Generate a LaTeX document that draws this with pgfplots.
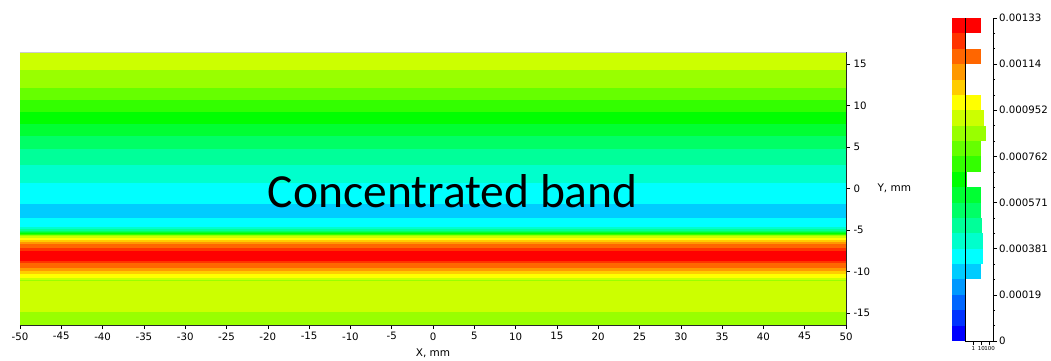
\documentclass[border=0pt]{standalone}
\usepackage{fontspec}
\setmainfont{DejaVu Sans}
\newfontfamily\carlito{Carlito}
\usepackage{pgfplots}
\pgfplotsset{compat=1.18}
\definecolor{L0}{HTML}{0000FF}
\definecolor{L1}{HTML}{0033FF}
\definecolor{L2}{HTML}{0066FF}
\definecolor{L3}{HTML}{0099FF}
\definecolor{L4}{HTML}{00CCFF}
\definecolor{L5}{HTML}{00FFFF}
\definecolor{L6}{HTML}{00FFCC}
\definecolor{L7}{HTML}{00FF99}
\definecolor{L8}{HTML}{00FF66}
\definecolor{L9}{HTML}{00FF33}
\definecolor{L10}{HTML}{00FF00}
\definecolor{L11}{HTML}{33FF00}
\definecolor{L12}{HTML}{66FF00}
\definecolor{L13}{HTML}{99FF00}
\definecolor{L14}{HTML}{CCFF00}
\definecolor{L15}{HTML}{FFFF00}
\definecolor{L16}{HTML}{FFCC00}
\definecolor{L17}{HTML}{FF9900}
\definecolor{L18}{HTML}{FF6600}
\definecolor{L19}{HTML}{FF3300}
\definecolor{L20}{HTML}{FF0000}
% band: top boundary (mm), colour level; filled down to ymin, drawn top to bottom
\newcommand\band[2]{\addplot[draw=none,fill=L#2] coordinates {(-50,#1) (50,#1) (50,-16.45) (-50,-16.45)};}
% colour strip: top of level, level
\newcommand\cstrip[2]{\addplot[draw=none,fill=L#2] coordinates {(0,#1) (1,#1) (1,0) (0,0)};}
% histogram bar: level, lower, upper, count
\newcommand\histbar[4]{\addplot[draw=none,fill=L#1] coordinates {(0.1,#2) (#4,#2) (#4,#3) (0.1,#3)};}
\begin{document}
\begin{tikzpicture}
\useasboundingbox (0pt,0pt) rectangle (1051pt,361pt);
\begin{axis}[at={(20pt,36pt)}, anchor=south west, scale only axis,
  width=826pt, height=273pt,
  xmin=-50, xmax=50, ymin=-16.45, ymax=16.48,
  axis x line=bottom, axis y line=right,
  axis line style={-, black!85, line width=0.8pt},
  xtick={-50,-45,...,50}, ytick={-15,-10,...,15},
  tick align=outside, major tick length=4pt,
  tick style={black, line width=0.6pt},
  /pgf/number format/assume math mode=true,
  tick label style={font=\fontsize{10.2}{12}\selectfont},
  xlabel={X, mm}, ylabel={Y, mm},
  every axis y label/.style={at={(rel axis cs:1,0.5)}, anchor=west, xshift=28pt, font=\fontsize{10.5}{12}\selectfont},
  xlabel style={yshift=-2pt, font=\fontsize{10.5}{12}\selectfont},
  axis on top]
\band{16.48}{14}
\band{14.28}{13}
\band{12.19}{12}
\band{10.66}{11}
\band{9.25}{10}
\band{7.77}{9}
\band{6.33}{8}
\band{4.72}{7}
\band{2.83}{6}
\band{0.70}{5}
\band{-1.87}{4}
\band{-3.50}{5}
\band{-4.64}{6}
\band{-4.88}{7}
\band{-5.06}{8}
\band{-5.18}{9}
\band{-5.30}{10}
\band{-5.42}{11}
\band{-5.54}{12}
\band{-5.64}{13}
\band{-5.75}{14}
\band{-5.90}{15}
\band{-6.14}{16}
\band{-6.39}{17}
\band{-6.69}{18}
\band{-7.17}{19}
\band{-7.53}{20}
\band{-8.73}{19}
\band{-8.98}{18}
\band{-9.58}{17}
\band{-9.94}{16}
\band{-10.30}{15}
\band{-10.78}{14}
\band{-11.08}{13}
\band{-11.20}{14}
\band{-14.84}{13}
\draw[black!20, line width=0.8pt] (rel axis cs:0,1) -- (rel axis cs:1,1);
\node[anchor=base, font=\carlito\fontsize{47.5}{52}\selectfont] at (axis cs:2.4,-2.23) {Concentrated band};
\end{axis}
\begin{axis}[at={(952pt,20pt)}, anchor=south west, scale only axis,
  width=13pt, height=323pt, xmin=0, xmax=1, ymin=0, ymax=21, hide axis]
\cstrip{21}{20}
\cstrip{20}{19}
\cstrip{19}{18}
\cstrip{18}{17}
\cstrip{17}{16}
\cstrip{16}{15}
\cstrip{15}{14}
\cstrip{14}{13}
\cstrip{13}{12}
\cstrip{12}{11}
\cstrip{11}{10}
\cstrip{10}{9}
\cstrip{9}{8}
\cstrip{8}{7}
\cstrip{7}{6}
\cstrip{6}{5}
\cstrip{5}{4}
\cstrip{4}{3}
\cstrip{3}{2}
\cstrip{2}{1}
\cstrip{1}{0}
\end{axis}
\begin{axis}[at={(965pt,20pt)}, anchor=south west, scale only axis,
  width=28pt, height=323pt,
  xmode=log, xmin=0.1, xmax=251, ymin=0, ymax=21,
  axis x line=bottom, axis y line=right,
  axis line style={-, black, line width=0.7pt},
  xtick={1,10,100}, xticklabels={1,10,100}, xminorticks=false,
  x tick label style={font=\fontsize{5.5}{6}\selectfont, inner sep=1pt},
  ytick={0,3,...,21},
  yticklabels={0,0.00019,0.000381,0.000571,0.000762,0.000952,0.00114,0.00133},
  minor y tick num=2,
  tick align=outside, major tick length=4pt, minor tick length=2pt,
  tick style={black, line width=0.6pt},
  y tick label style={font=\fontsize{10.2}{12}\selectfont, inner sep=2pt},
  axis on top]
\histbar{20}{20}{21}{7.6}
\histbar{18}{18}{19}{7.6}
\histbar{15}{15}{16}{7.6}
\histbar{14}{14}{15}{21}
\histbar{13}{13}{14}{33}
\histbar{12}{12}{13}{7.6}
\histbar{11}{11}{12}{7.6}
\histbar{10}{10}{11}{0.19}
\histbar{9}{9}{10}{7.6}
\histbar{8}{8}{9}{7.6}
\histbar{7}{7}{8}{13}
\histbar{6}{6}{7}{16}
\histbar{5}{5}{6}{16}
\histbar{4}{4}{5}{7.6}
\draw[black, line width=0.7pt] (rel axis cs:0,0) -- (rel axis cs:0,1);
\end{axis}
\end{tikzpicture}
\end{document}
